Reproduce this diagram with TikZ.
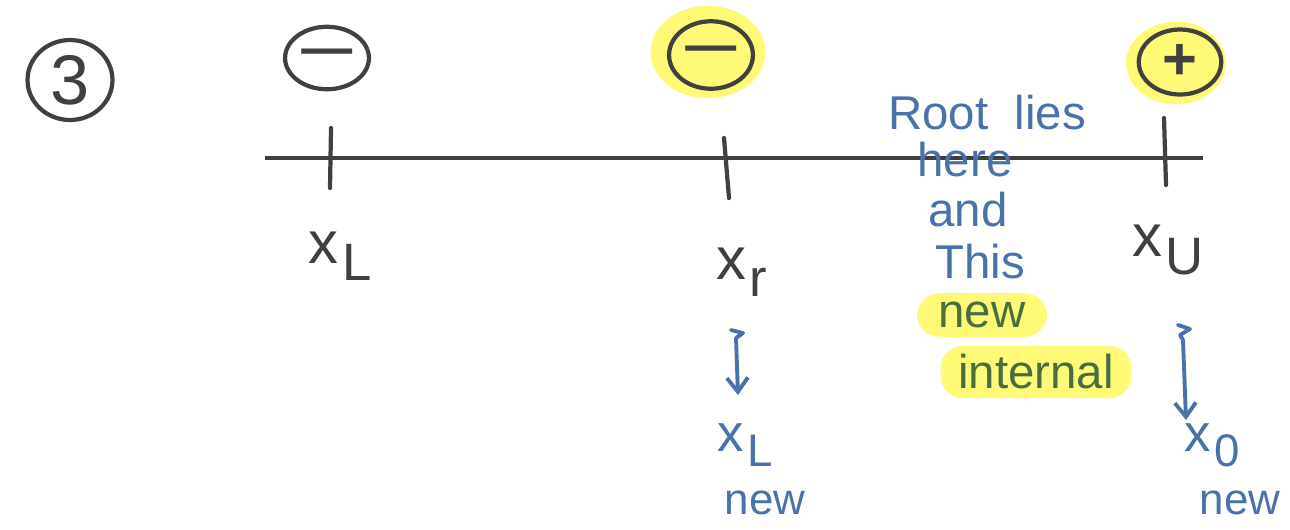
\documentclass[tikz,border=0pt]{standalone}
\usepackage{fontspec}
\setmainfont{Liberation Sans}
\usetikzlibrary{shapes.geometric,arrows.meta}
\definecolor{ink}{RGB}{64,64,64}
\definecolor{pen}{RGB}{74,114,170}
\definecolor{grn}{RGB}{72,110,64}
\definecolor{hl}{RGB}{255,249,120}
\newcommand{\xsub}[2]{x\kern2pt\raisebox{-0.55ex}{\fontsize{#2}{#2}\selectfont #1}}
\newcommand{\wideminus}{\scalebox{1.7}[0.8]{−}}
\tikzset{
  x=0.02cm, y=-0.02cm,
  stroke/.style={line width=2.4pt, line cap=round, line join=round},
  sign/.style={ellipse, draw=ink, stroke, minimum width=1.45cm, minimum height=1.25cm, inner sep=0pt, text=ink, font=\fontsize{34}{34}\selectfont\bfseries},
  blob/.style={ellipse, fill=hl, draw=none},
  axlabel/.style={text=ink, font=\fontsize{34}{34}\selectfont, inner sep=0pt},
  bluetext/.style={text=pen, font=\fontsize{27}{28}\selectfont, inner sep=0pt},
  greentext/.style={text=grn, font=\fontsize{27}{28}\selectfont, fill=hl, rounded corners=0.45cm, inner xsep=10pt, inner ysep=5pt},
  bluearrow/.style={draw=pen, line width=2.2pt, line cap=round, -{Straight Barb[length=8pt,width=12pt]}},
  squig/.style={draw=pen, line width=2.2pt, line cap=round, line join=round},
}
\begin{document}
\begin{tikzpicture}
\useasboundingbox (0,0) rectangle (1290,529);
% highlight blobs
\node[blob, minimum width=2.3cm, minimum height=1.85cm] (hlr) at (708,52) {};
\node[blob, minimum width=2.0cm, minimum height=1.65cm] (hlu) at (1176,63) {};
% circled number
\node[sign, minimum width=1.7cm, minimum height=1.6cm, font=\fontsize{40}{40}\selectfont] (three) at (70,80) {3};
% number line
\coordinate (lineL) at (265,158);
\coordinate (lineR) at (1203,158);
\draw[draw=ink, line width=2pt] (lineL) -- (lineR);
% ticks
\coordinate (tLa) at (331,128); \coordinate (tLb) at (330,188);
\coordinate (tra) at (724,138); \coordinate (trb) at (729,198);
\coordinate (tUa) at (1164,118); \coordinate (tUb) at (1166,185);
\draw[draw=ink, stroke] (tLa) -- (tLb);
\draw[draw=ink, stroke] (tra) -- (trb);
\draw[draw=ink, stroke] (tUa) -- (tUb);
% signs
\node[sign] (sL) at (327,58) {\wideminus};
\node[sign, minimum width=1.6cm, minimum height=1.35cm] (sr) at (711,55) {\wideminus};
\node[sign, minimum width=1.65cm, minimum height=1.3cm] (sU) at (1180,62) {+};
% axis labels
\node[axlabel] (xL) at (340,256) {\xsub{L}{30}};
\node[axlabel] (xr) at (742,272) {\xsub{r}{30}};
\node[axlabel] (xU) at (1168,250) {\xsub{U}{30}};
% blue notes
\node[bluetext] (root) at (987,113) {Root\ \ lies};
\node[bluetext] (here) at (965,160) {here};
\node[bluetext] (and) at (968,210) {and};
\node[bluetext] (this) at (980,262) {This};
\node[greentext, minimum width=2.6cm] (new) at (982,315) {new};
\node[greentext, minimum width=3.2cm] (internal) at (1036,372) {internal};
% arrows
\coordinate (aLtop) at (736,338);
\coordinate (aUtop) at (1183,340);
\draw[squig] (731,330) -- (743,333) -- (736,338);
\draw[squig] (1178,325) -- (1190,329) -- (1180,335) -- (1183,340);
\node[bluetext, font=\fontsize{30}{30}\selectfont] (xLnew) at (745,445) {\xsub{L}{26}};
\node[bluetext, font=\fontsize{25}{26}\selectfont] (newL) at (765,503) {new};
\node[bluetext, font=\fontsize{30}{30}\selectfont] (x0new) at (1212,445) {\xsub{0}{26}};
\node[bluetext, font=\fontsize{25}{26}\selectfont] (newU) at (1240,503) {new};
\draw[bluearrow] (aLtop) -- (738,395);
\draw[bluearrow] (aUtop) -- (1186,420);
\end{tikzpicture}
\end{document}
